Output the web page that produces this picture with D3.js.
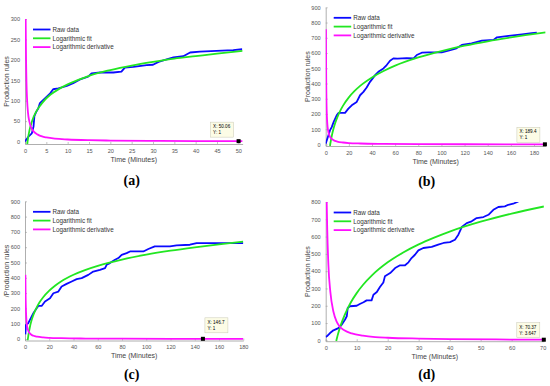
<!DOCTYPE html>
<html lang="en">
<head>
<meta charset="utf-8">
<title>Production rules</title>
<script src="https://cdn.jsdelivr.net/npm/d3@7"></script>
<style>
  body { margin: 0; background: #fff; }
  svg text { font-family: "Liberation Sans", Arial, sans-serif; }
  .tick-lbl { fill: #555; font-size: 5.6px; }
  .ax-lbl { fill: #444; font-size: 7px; }
  .leg { fill: #333; font-size: 6.3px; }
  .tip { fill: #000; font-size: 4.6px; }
  .title { font-family: "Liberation Serif", "Times New Roman", serif !important; font-weight: bold; font-size: 14px; fill: #000; }
</style>
</head>
<body>
<script>
// ---- data ----
const legendLabels = ["Raw data", "Logarithmic fit", "Logarithmic derivative"];

// (a)
const rawA_t = [0, 0.2, 0.8, 1.6, 2, 2.2, 2.6, 3.1, 3.5, 4.3, 5.1, 5.9, 6.6, 7.8, 9.8, 11.3, 12.9, 14.8, 15.6, 17.6, 20.7, 22.6, 23.4, 25.4, 28.5, 30, 31.3, 33.2, 34.8, 37.1, 38.7, 41, 44.9, 48.8, 50.9];
const rawA_y = [0, 3, 12, 20, 37, 62, 72, 81, 94, 102, 110, 118, 128, 130, 136, 143, 152, 159, 167, 169, 169, 171, 181, 183, 187, 188, 195, 201, 206, 209, 218, 220, 222, 224, 226];
const fitA_t = [0.54, 0.6, 0.7, 0.8, 1, 1.25, 1.5, 2, 2.5, 3, 4, 5, 6, 8, 10, 12.5, 15, 20, 25, 30, 35, 40, 45, 51];
const fitA_y = [-6, -0.5, 7, 14, 25, 36, 45, 60, 71, 80, 94, 106, 115, 129, 140, 151, 161, 175, 186, 195, 203, 209, 215, 222];
const derA_t = [0.16, 0.2, 0.25, 0.3, 0.4, 0.5, 0.7, 1, 1.5, 2, 3, 4, 5, 7, 10, 15, 20, 30, 40, 51];
const derA_y = [300, 250, 200, 167, 125, 100, 71, 50, 33, 25, 17, 12.5, 10, 7, 5, 3.3, 2.5, 1.7, 1.25, 1];

// (b)
const rawB_t = [0, 2.3, 3.7, 5.2, 7, 9.5, 11, 16.7, 19.6, 22.5, 26.8, 29.7, 32.6, 35.4, 38.3, 42.7, 45.5, 49.9, 52.7, 55.6, 58.5, 62, 70, 76, 78.7, 83, 88.8, 100.3, 106, 113, 117.6, 126, 135, 145, 148, 158, 169.7, 178, 182.4];
const rawB_y = [5, 59, 92, 114, 150, 191, 207, 207, 235, 257, 279, 323, 345, 374, 411, 455, 477, 499, 521, 549, 565, 563, 566, 565, 587, 602, 604, 604, 615, 631, 653, 664, 681, 686, 703, 712, 723, 730, 734];
const fitB_t = [3.7, 4, 5, 6, 8, 10, 12, 15, 20, 25, 30, 40, 50, 60, 80, 100, 120, 140, 160, 190];
const fitB_y = [-10, 5, 47, 82, 136, 178, 213, 255, 309, 351, 386, 440, 482, 517, 571, 613, 648, 677, 702, 735];
const derB_t = [0.25, 0.3, 0.4, 0.5, 0.7, 1, 1.5, 2, 3, 4, 5, 7, 10, 15, 20, 30, 50, 80, 120, 190];
const derB_y = [756, 630, 473, 378, 270, 189, 126, 95, 63, 47, 38, 27, 19, 13, 9.5, 6.3, 3.8, 2.4, 1.6, 1];

// (c)
const rawC_t = [0.3, 0.8, 2.7, 4.7, 6.9, 9.6, 11, 13.7, 16.5, 20.6, 23.4, 27.5, 30.2, 34.3, 38.5, 42.6, 46.7, 52.2, 56.3, 61.8, 66, 67.3, 70, 74.2, 77, 79.7, 83.8, 86.6, 97.6, 101.7, 107, 119.5, 125, 136, 141.5, 158, 180];
const rawC_y = [30, 92, 103, 135, 168, 201, 216, 216, 245, 266, 299, 310, 343, 360, 376, 391, 398, 419, 441, 452, 463, 485, 496, 518, 529, 550, 561, 572, 572, 588, 605, 605, 612, 616, 627, 627, 627];
const fitC_t = [2.2, 2.5, 3, 4, 5, 6, 8, 10, 12, 15, 20, 25, 30, 40, 50, 60, 80, 100, 120, 140, 160, 180];
const fitC_y = [-10, 8, 35, 77, 110, 137, 179, 212, 240, 273, 316, 350, 378, 420, 452, 478, 519, 551, 577, 599, 619, 636];
const derC_t = [0.35, 0.4, 0.5, 0.7, 1, 1.5, 2, 3, 4, 5, 7, 10, 15, 20, 30, 50, 80, 120, 180];
const derC_y = [419, 367, 293, 210, 147, 98, 73, 49, 37, 29, 21, 15, 10, 7.3, 4.9, 2.9, 1.8, 1.2, 0.8];

// (d)
const rawD_t = [0, 0.6, 1.4, 2.5, 4.1, 5.2, 6.2, 6.8, 7.1, 7.8, 10, 11, 12.2, 13.2, 14.8, 15.4, 16.5, 17.5, 18.6, 19.1, 20.8, 22.4, 24, 25.6, 26.7, 27.7, 28.8, 29.9, 31.5, 34.2, 36.3, 38, 40.1, 41.7, 42.8, 43.9, 45.5, 47.1, 48.7, 50.9, 52.5, 54.1, 55.7, 57.8, 58.9, 60.5, 62.2];
const rawD_y = [20, 27, 42, 58, 71, 91, 119, 139, 187, 197, 200, 210, 220, 231, 231, 264, 279, 308, 335, 370, 389, 418, 434, 434, 451, 476, 495, 520, 534, 540, 553, 563, 568, 582, 611, 655, 678, 688, 707, 713, 726, 755, 771, 775, 784, 790, 803];
const fitD_t = [3.4, 3.7, 4, 5, 6, 7, 8, 10, 12, 15, 20, 25, 30, 35, 40, 50, 60, 70.4];
const fitD_y = [-4, 18, 38, 95, 142, 181, 216, 273, 320, 377, 451, 508, 555, 594, 629, 686, 733, 774];
const derD_t = [0.32, 0.5, 0.86, 1.5, 2.5, 3.5, 4.5, 6, 8.4, 12, 16, 20, 30, 40, 55, 70.4];
const derD_y = [800, 640, 440, 280, 165, 110, 80, 58, 40, 27, 19, 15, 10, 7, 5, 3.6];

// data tips
const tipA = [50.06, 1], tipB = [189.4, 1], tipC = [146.7, 1], tipD = [70.37, 3.647];

// ---- drawing ----
const W = 550, H = 386;
const svg = d3.select("body").append("svg").attr("width", W).attr("height", H);

const zip = (t, y) => t.map((v, i) => [v, y[i]]);

const panels = [
  { id: "a", box: [25, 242.6, 19, 144], xd: [0, 51], yd: [-6, 300], xt: d3.range(0, 51, 5), yt: d3.range(0, 301, 50),
    raw: zip(rawA_t, rawA_y), fit: zip(fitA_t, fitA_y), der: zip(derA_t, derA_y), tip: tipA, tipOff: [-28, -19],
    ylab: "Production rules", title: "(a)", tx: 131.7, ty: 184.5 },
  { id: "b", box: [325.7, 545.6, 7.3, 146], xd: [0, 190], yd: [-10, 900], xt: d3.range(0, 181, 20), yt: d3.range(0, 901, 100),
    raw: zip(rawB_t, rawB_y), fit: zip(fitB_t, fitB_y), der: zip(derB_t, derB_y), tip: tipB, tipOff: [-28, -17],
    ylab: "Production rules", title: "(b)", tx: 426.7, ty: 185.5 },
  { id: "c", box: [25, 243.3, 201.3, 340.5], xd: [0, 180], yd: [-10, 900], xt: d3.range(0, 181, 20), yt: d3.range(0, 901, 100),
    raw: zip(rawC_t, rawC_y), fit: zip(fitC_t, fitC_y), der: zip(derC_t, derC_y), tip: tipC, tipOff: [2, -21],
    ylab: "/Production rules", title: "(c)", tx: 131.7, ty: 379 },
  { id: "d", box: [325.7, 543.9, 202, 341.2], xd: [0, 70.4], yd: [-5, 800], xt: d3.range(0, 71, 10), yt: d3.range(0, 801, 100),
    raw: zip(rawD_t, rawD_y), fit: zip(fitD_t, fitD_y), der: zip(derD_t, derD_y), tip: tipD, tipOff: [-27, -17],
    ylab: "Production rules", title: "(d)", tx: 426.7, ty: 378.5 }
];

const colors = ["#0a0aff", "#22e622", "#ff10ff"];

panels.forEach(p => {
  const [l, r, t, b] = p.box;
  const x = d3.scaleLinear().domain(p.xd).range([l, r]);
  const y = d3.scaleLinear().domain(p.yd).range([b, t]);
  const g = svg.append("g");

  g.append("clipPath").attr("id", "clip-" + p.id)
    .append("rect").attr("x", l).attr("y", t).attr("width", r - l).attr("height", b - t);

  // axes (inward ticks, MATLAB style)
  const xa = g.append("g").attr("transform", `translate(0,${b})`)
    .call(d3.axisBottom(x).tickValues(p.xt).tickSizeInner(-2).tickSizeOuter(0).tickPadding(5));
  const ya = g.append("g").attr("transform", `translate(${l},0)`)
    .call(d3.axisLeft(y).tickValues(p.yt).tickSizeInner(-2).tickSizeOuter(0).tickPadding(5));
  [xa, ya].forEach(a => {
    a.select(".domain").attr("stroke", "#9a9a9a").attr("stroke-width", 0.8);
    a.selectAll(".tick line").attr("stroke", "#9a9a9a").attr("stroke-width", 0.6);
    a.selectAll(".tick text").attr("class", "tick-lbl").attr("font-family", null).attr("font-size", null);
  });

  // lines
  const plot = g.append("g").attr("clip-path", `url(#clip-${p.id})`);
  const lin = d3.line().x(d => x(d[0])).y(d => y(d[1]));
  const smooth = d3.line().x(d => x(d[0])).y(d => y(d[1])).curve(d3.curveMonotoneX);
  plot.append("path").datum(p.raw).attr("d", lin).attr("fill", "none")
    .attr("stroke", colors[0]).attr("stroke-width", 1.8).attr("stroke-linejoin", "round");
  plot.append("path").datum(p.fit).attr("d", smooth).attr("fill", "none")
    .attr("stroke", colors[1]).attr("stroke-width", 1.8);
  plot.append("path").datum(p.der).attr("d", smooth).attr("fill", "none")
    .attr("stroke", colors[2]).attr("stroke-width", 1.8);

  // data tip
  const mx = x(p.tip[0]), my = y(p.tip[1]);
  const tx = mx + p.tipOff[0], ty = my + p.tipOff[1];
  g.append("rect").attr("x", tx).attr("y", ty).attr("width", 23).attr("height", 15)
    .attr("fill", "#fcfce6").attr("stroke", "#c8c8b4").attr("stroke-width", 0.5);
  g.append("text").attr("class", "tip").attr("x", tx + 2.5).attr("y", ty + 5.8).text("X: " + p.tip[0]);
  g.append("text").attr("class", "tip").attr("x", tx + 2.5).attr("y", ty + 11.8).text("Y: " + p.tip[1]);
  g.append("rect").attr("x", mx - 2).attr("y", my - 2).attr("width", 4).attr("height", 4).attr("fill", "#000");

  // legend
  legendLabels.forEach((lab, i) => {
    const ly = t + 10.5 + i * 8.8;
    g.append("line").attr("x1", l + 8).attr("x2", l + 25.5).attr("y1", ly).attr("y2", ly)
      .attr("stroke", colors[i]).attr("stroke-width", 1.8);
    g.append("text").attr("class", "leg").attr("x", l + 27.5).attr("y", ly + 2.2).text(lab);
  });

  // labels
  g.append("text").attr("class", "ax-lbl").attr("text-anchor", "middle")
    .attr("x", (l + r) / 2).attr("y", b + 17.5).text("Time (Minutes)");
  g.append("text").attr("class", "ax-lbl").attr("text-anchor", "middle")
    .attr("transform", `translate(${l - 16},${(t + b) / 2}) rotate(-90)`).text(p.ylab);
  g.append("text").attr("class", "title").attr("text-anchor", "middle")
    .attr("x", p.tx).attr("y", p.ty).text(p.title);
});
</script>
</body>
</html>
